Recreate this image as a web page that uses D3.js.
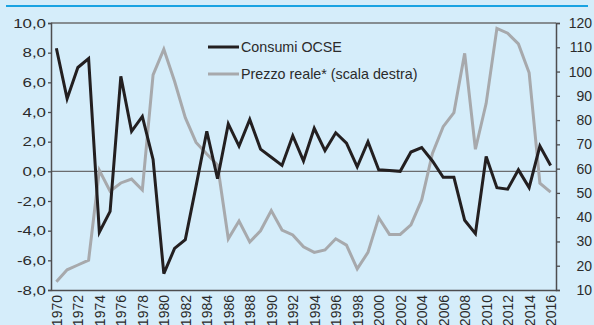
<!DOCTYPE html>
<html>
<head>
<meta charset="utf-8">
<script src="https://cdn.jsdelivr.net/npm/d3@7"></script>
<style>
  html, body { margin: 0; padding: 0; background: #d5edfa; }
  svg { display: block; }
  text { font-family: "Liberation Sans", Arial, sans-serif; fill: #2b2b2b; }
</style>
</head>
<body>
<svg id="chart" width="594" height="325"></svg>
<script>
// Years on the category axis
const years = [1970, 1971, 1972, 1973, 1974, 1975, 1976, 1977, 1978, 1979,
               1980, 1981, 1982, 1983, 1984, 1985, 1986, 1987, 1988, 1989,
               1990, 1991, 1992, 1993, 1994, 1995, 1996, 1997, 1998, 1999,
               2000, 2001, 2002, 2003, 2004, 2005, 2006, 2007, 2008, 2009,
               2010, 2011, 2012, 2013, 2014, 2015, 2016];

// Consumi OCSE (variazione %, scala sinistra)
const consumi = [8.3, 4.9, 7.0, 7.6, -4.1, -2.7, 6.4, 2.7, 3.7, 0.8,
                 -6.9, -5.2, -4.6, -1.0, 2.7, -0.5, 3.2, 1.7, 3.5, 1.5,
                 0.95, 0.4, 2.4, 0.7, 2.9, 1.4, 2.6, 1.9, 0.3, 2.0,
                 0.1, 0.05, 0.0, 1.3, 1.6, 0.7, -0.4, -0.4, -3.3, -4.2,
                 1.0, -1.1, -1.2, 0.1, -1.1, 1.7, 0.4];

// Prezzo reale* (scala destra)
const prezzo = [13.4, 18.3, 20.3, 22.3, 59.3, 50.7, 54.1, 55.7, 51.2, 98.6,
                109.2, 96.0, 81.0, 70.8, 66.0, 61.5, 31.1, 38.4, 29.8, 34.4,
                42.7, 34.7, 32.7, 27.8, 25.5, 26.5, 31.1, 28.5, 18.7, 25.5,
                39.8, 32.9, 32.9, 36.8, 47.1, 66.3, 77.3, 83.1, 107.5, 68.0,
                86.9, 117.8, 115.8, 111.4, 99.5, 54.0, 50.3];

const leftTicks = [-8, -6, -4, -2, 0, 2, 4, 6, 8, 10];
const rightTicks = [10, 20, 30, 40, 50, 60, 70, 80, 90, 100, 110, 120];
const yearTicks = years.filter((y, i) => i % 2 === 0);

const seriesNames = ["Consumi OCSE", "Prezzo reale* (scala destra)"];
const colBlack = "#231f20";
const colGray = "#a7a9ac";

const svg = d3.select("#chart");
const L = 51, R = 556, T = 23, B = 290;

const x = d3.scalePoint().domain(years).range([L, R]).padding(0.5);
const yL = d3.scaleLinear().domain([-8, 10]).range([B, T]);
const yR = d3.scaleLinear().domain([10, 120]).range([B, T]);

const fmtComma = v => v.toFixed(1).replace(".", ",");

// top rule
svg.append("line")
  .attr("x1", 6).attr("x2", 588).attr("y1", 6).attr("y2", 6)
  .attr("stroke", "#1aa3e2").attr("stroke-width", 2.2);

// plot frame: top edge
svg.append("line")
  .attr("x1", L).attr("x2", R).attr("y1", T).attr("y2", T)
  .attr("stroke", "#6b6c6e").attr("stroke-width", 1.3);

// zero line
svg.append("line")
  .attr("x1", L).attr("x2", R).attr("y1", yL(0)).attr("y2", yL(0))
  .attr("stroke", "#6b6c6e").attr("stroke-width", 1.3);

// left axis
const axL = svg.append("g").attr("transform", `translate(${L},0)`)
  .call(d3.axisLeft(yL).tickValues(leftTicks).tickSize(3).tickPadding(4).tickFormat(fmtComma));
axL.select(".domain").attr("stroke", "#4d4d4f").attr("stroke-width", 1.5);
axL.selectAll(".tick line").attr("stroke", "#4d4d4f").attr("stroke-width", 1.3);
axL.selectAll(".tick text")
  .attr("font-size", 13).attr("font-family", "Liberation Sans, Arial, sans-serif")
  .attr("fill", "#2b2b2b")
  .attr("transform", "scale(1.3,1)")
  .attr("x", -5 / 1.3);

// right axis
const axR = svg.append("g").attr("transform", `translate(${R},0)`)
  .call(d3.axisRight(yR).tickValues(rightTicks).tickSize(4).tickFormat(d3.format("d")));
axR.select(".domain").attr("stroke", "#4d4d4f").attr("stroke-width", 1.5);
axR.selectAll(".tick line").attr("stroke", "#4d4d4f").attr("stroke-width", 1.3);
axR.selectAll(".tick text")
  .attr("font-size", 14).attr("font-family", "Liberation Sans, Arial, sans-serif")
  .attr("fill", "#2b2b2b")
  .attr("text-anchor", "end")
  .attr("x", 592 - R);

// bottom axis
const axB = svg.append("g").attr("transform", `translate(0,${B})`)
  .call(d3.axisBottom(x).tickValues(yearTicks).tickSize(0).tickSizeOuter(0));
axB.select(".domain").attr("stroke", "#4d4d4f").attr("stroke-width", 1.5);
axB.selectAll(".tick text")
  .attr("font-size", 14).attr("font-family", "Liberation Sans, Arial, sans-serif")
  .attr("fill", "#2b2b2b")
  .attr("text-anchor", "end")
  .attr("transform", "translate(0,5) rotate(-90)")
  .attr("x", 0).attr("y", 0).attr("dy", "0.36em");

// series lines
const lineL = d3.line().x((d, i) => x(years[i])).y(d => yL(d));
const lineR = d3.line().x((d, i) => x(years[i])).y(d => yR(d));

svg.append("path").datum(prezzo)
  .attr("d", lineR).attr("fill", "none")
  .attr("stroke", colGray).attr("stroke-width", 3).attr("stroke-linejoin", "miter");

svg.append("path").datum(consumi)
  .attr("d", lineL).attr("fill", "none")
  .attr("stroke", colBlack).attr("stroke-width", 3).attr("stroke-linejoin", "miter");

// legend
const legend = svg.append("g");
[colBlack, colGray].forEach((c, i) => {
  const yy = 47 + i * 27;
  legend.append("line")
    .attr("x1", 208).attr("x2", 239).attr("y1", yy).attr("y2", yy)
    .attr("stroke", c).attr("stroke-width", 3);
  legend.append("text")
    .attr("x", 241).attr("y", yy).attr("dy", "0.36em")
    .attr("font-size", 14.3)
    .text(seriesNames[i]);
});
</script>
</body>
</html>
